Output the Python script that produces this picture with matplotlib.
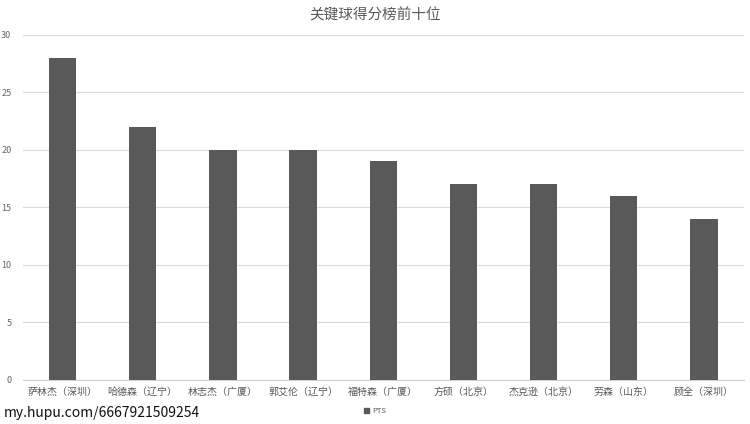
#!/usr/bin/python3

import matplotlib.pyplot as plt
from matplotlib.patches import Patch

plt.rcParams['font.family'] = ['Noto Sans CJK SC', 'DejaVu Sans']

players = ["萨林杰（深圳）", "哈德森（辽宁）", "林志杰（广厦）", "郭艾伦（辽宁）",
           "福特森（广厦）", "方硕（北京）", "杰克逊（北京）", "劳森（山东）",
           "顾全（深圳）"]
pts = [28, 22, 20, 20, 19, 17, 17, 16, 14]
yticks = [0, 5, 10, 15, 20, 25, 30]


def main():
    """Draw the clutch scoring top list."""

    fig = plt.figure(figsize=(7.5, 4.24), dpi=100)
    ax = fig.add_axes([0.030, 0.104, 0.962, 0.814])

    bar_color = "#595959"
    ax.bar(range(len(players)), pts, width=0.34, color=bar_color, zorder=3)

    ax.set_xlim(-0.5, len(players) - 0.5)
    ax.set_ylim(0, 30)
    ax.set_yticks(yticks)
    ax.set_yticklabels([str(t) for t in yticks], fontsize=6.5, color="#666666")
    ax.set_xticks(range(len(players)))
    ax.set_xticklabels(players, fontsize=7.2, color="#595959")
    ax.tick_params(axis="both", length=0, pad=8)
    ax.tick_params(axis="x", pad=5)

    ax.grid(axis="y", color="#d9d9d9", linewidth=0.8, zorder=0)
    for side in ["top", "right", "left"]:
        ax.spines[side].set_visible(False)
    ax.spines["bottom"].set_color("#d0d0d0")

    fig.text(0.5, 0.965, "关键球得分榜前十位", ha="center", va="center",
             fontsize=10.5, color="#595959")

    handle = Patch(color=bar_color, label="PTS")
    fig.legend(handles=[handle], loc="center", bbox_to_anchor=(0.5, 0.03),
               frameon=False, fontsize=5.5, handlelength=0.6,
               handleheight=0.6, handletextpad=0.4, labelcolor="#595959")

    fig.text(0.005, 0.027, "my.hupu.com/6667921509254", ha="left",
             va="center", fontsize=10, color="#111111")

    fig.savefig("out.png", dpi=100)


if __name__ == "__main__":
    main()
